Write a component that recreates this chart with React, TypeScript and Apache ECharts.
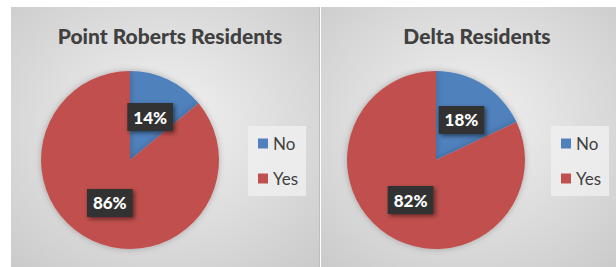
import React, { useEffect, useRef } from "react";
import * as echarts from "echarts";

const titles = ["Point Roberts Residents", "Delta Residents"];
const categories = ["No", "Yes"];
const pointRobertsValues = [14, 86];
const deltaValues = [18, 82];
const colors = ["#4F81BD", "#C0504D"];

export default function App() {
  const ref = useRef<HTMLDivElement>(null);
  useEffect(() => {
    document.body.style.margin = "0";
    const chart = echarts.init(ref.current!, null, { renderer: "svg" });
    const font = "Lato, 'Open Sans', sans-serif";
    const panelBg = (x: number, w: number) => ({
      type: "rect",
      shape: { x, y: 7, width: w, height: 260 },
      style: {
        fill: new echarts.graphic.RadialGradient(0.5, 0.45, 0.75, [
          { offset: 0, color: "#f2f2f2" },
          { offset: 1, color: "#cacaca" },
        ]),
      },
      z: -10,
    });
    const mkSeries = (vals: number[], cx: number) => ({
      type: "pie",
      center: [cx, 160],
      radius: 89,
      startAngle: 90,
      clockwise: true,
      data: categories.map((c, i) => ({ name: c, value: vals[i] })),
      label: {
        show: true,
        position: "inside",
        formatter: (p: any) => p.value + "%",
        color: "#ffffff",
        fontWeight: 900,
        fontSize: 17,
        fontFamily: font,
        backgroundColor: "#323232",
        padding: [6, 6, 5, 6],
        shadowColor: "rgba(0,0,0,0.5)",
        shadowBlur: 4,
        shadowOffsetX: 2,
        shadowOffsetY: 2,
      },
      labelLine: { show: false },
      itemStyle: { shadowColor: "rgba(0,0,0,0.25)", shadowBlur: 6 },
      emphasis: { disabled: true },
    });
    const mkLegend = (left: number) => ({
      data: categories,
      orient: "vertical",
      left,
      top: 126,
      itemWidth: 10,
      itemHeight: 10,
      itemGap: 18,
      icon: "rect",
      padding: [9, 8, 9, 10],
      backgroundColor: "rgba(238,238,238,0.85)",
      textStyle: { fontSize: 17, color: "#404040", fontFamily: font },
    });
    const titleStyle = { fontSize: 21, fontWeight: 900, color: "#404040", fontFamily: font };
    chart.setOption({
      animation: false,
      color: colors,
      title: [
        { text: titles[0], left: 165, top: 20, textAlign: "center", textStyle: titleStyle },
        { text: titles[1], left: 472, top: 20, textAlign: "center", textStyle: titleStyle },
      ],
      legend: [mkLegend(248), mkLegend(551)],
      graphic: [
        panelBg(11, 308),
        panelBg(321, 295),
        { type: "line", shape: { x1: 319.5, y1: 7, x2: 319.5, y2: 267 }, style: { stroke: "#bdbdbd", lineWidth: 1 }, z: -9 },
      ],
      series: [mkSeries(pointRobertsValues, 130), mkSeries(deltaValues, 436)],
    });
    return () => chart.dispose();
  }, []);
  return <div ref={ref} style={{ width: 616, height: 267 }} />;
}
